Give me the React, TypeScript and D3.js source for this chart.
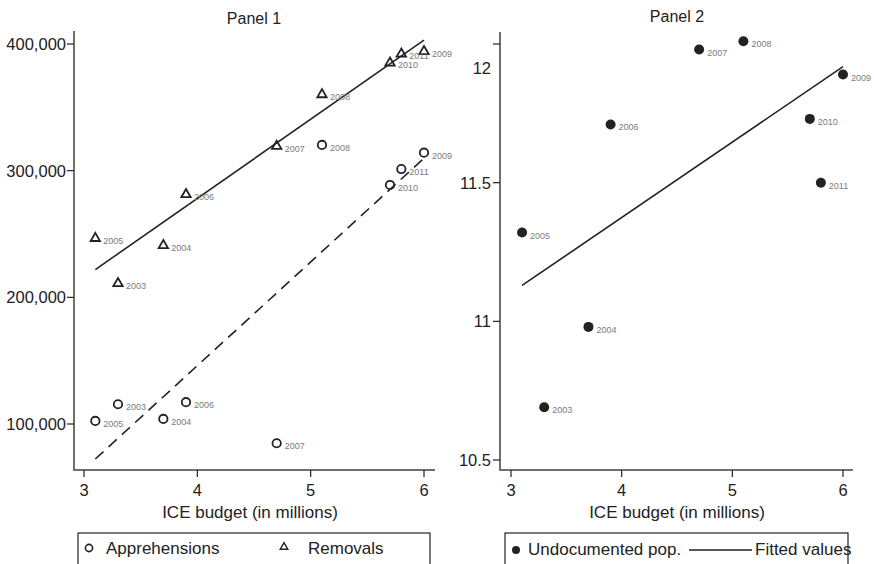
import React from "react";
import * as d3 from "d3";

const years = [2003, 2004, 2005, 2006, 2007, 2008, 2009, 2010, 2011];
const budget = [3.3, 3.7, 3.1, 3.9, 4.7, 5.1, 6.0, 5.7, 5.8];
const removals = [211400, 241400, 247000, 281600, 319700, 360500, 394500, 385500, 392600];
const apprehensions = [115600, 104000, 102400, 117200, 84800, 320300, 314200, 288700, 301300];
const undocumented = [10.69, 10.98, 11.32, 11.71, 11.98, 12.01, 11.89, 11.73, 11.5];

const p1YTicks = [100000, 200000, 300000, 400000];
const p2YTicks = [10.5, 11, 11.5, 12];
const xTicks = [3, 4, 5, 6];

const FONT = "'Liberation Sans', Arial, Helvetica, sans-serif";
const AXIS = "#6f6f6f";
const INK = "#222";
const LABEL = "#7a7a7a";

function fit(xs: number[], ys: number[]) {
  const mx = d3.mean(xs)!;
  const my = d3.mean(ys)!;
  let sxy = 0, sxx = 0;
  xs.forEach((x, i) => {
    sxy += (x - mx) * (ys[i] - my);
    sxx += (x - mx) * (x - mx);
  });
  const b = sxy / sxx;
  const a = my - b * mx;
  return (x: number) => a + b * x;
}

const tri = d3.symbol().type(d3.symbolTriangle).size(38);

export default function App() {
  // Panel 1 scales
  const x1 = d3.scaleLinear().domain([3, 6]).range([84, 424]);
  const y1 = d3.scaleLinear().domain([100000, 400000]).range([424, 44]);
  // Panel 2 scales
  const x2 = d3.scaleLinear().domain([3, 6]).range([511, 843]);
  const y2 = d3.scaleLinear().domain([10.5, 12]).range([460, 44]);

  const xMin = d3.min(budget)!;
  const xMax = d3.max(budget)!;
  const fRem = fit(budget, removals);
  const fApp = fit(budget, apprehensions);
  const fUnd = fit(budget, undocumented);
  const fmt = d3.format(",");

  const yearLabel = (x: number, y: number, yr: number, key: string) => (
    <text key={key} x={x + 8} y={y + 6} fontSize={9} fill={LABEL}>{yr}</text>
  );

  return (
    <svg width={874} height={564} style={{ position: "absolute", left: 0, top: 0, background: "#fff" }} fontFamily={FONT}>
      {/* Panel 1 */}
      <text x={254} y={24} fontSize={16} textAnchor="middle" fill={INK}>Panel 1</text>
      <line x1={74} x2={74} y1={31} y2={471} stroke={AXIS} strokeWidth={2} />
      <line x1={73} x2={435} y1={470} y2={470} stroke={AXIS} strokeWidth={2} />
      {p1YTicks.map((t) => (
        <g key={"p1y" + t}>
          <line x1={67} x2={74} y1={y1(t)} y2={y1(t)} stroke={INK} strokeWidth={1.2} />
          <text x={66} y={y1(t) + 6} fontSize={16.5} textAnchor="end" fill={INK}>{fmt(t)}</text>
        </g>
      ))}
      {xTicks.map((t) => (
        <g key={"p1x" + t}>
          <line x1={x1(t)} x2={x1(t)} y1={470} y2={477} stroke={INK} strokeWidth={1.2} />
          <text x={x1(t)} y={496} fontSize={16.5} textAnchor="middle" fill={INK}>{t}</text>
        </g>
      ))}
      <text x={250} y={518} fontSize={17} textAnchor="middle" fill={INK}>ICE budget (in millions)</text>

      <line x1={x1(xMin)} y1={y1(fRem(xMin))} x2={x1(xMax)} y2={y1(fRem(xMax))} stroke={INK} strokeWidth={1.6} />
      <line x1={x1(xMin)} y1={y1(fApp(xMin))} x2={x1(xMax)} y2={y1(fApp(xMax))} stroke={INK} strokeWidth={1.6} strokeDasharray="11,7" />

      {budget.map((b, i) => (
        <g key={"r" + i}>
          <path d={tri()!} transform={`translate(${x1(b)},${y1(removals[i]) + 0.5})`} fill="none" stroke={INK} strokeWidth={1.8} />
          {yearLabel(x1(b), y1(removals[i]), years[i], "rl" + i)}
        </g>
      ))}
      {budget.map((b, i) => (
        <g key={"a" + i}>
          <circle cx={x1(b)} cy={y1(apprehensions[i])} r={4.2} fill="none" stroke={INK} strokeWidth={1.8} />
          {yearLabel(x1(b), y1(apprehensions[i]), years[i], "al" + i)}
        </g>
      ))}

      {/* Panel 1 legend */}
      <rect x={78} y={533} width={352} height={40} fill="none" stroke={INK} strokeWidth={1.2} />
      <circle cx={89} cy={548} r={3.6} fill="none" stroke={INK} strokeWidth={1.6} />
      <text x={106} y={554} fontSize={17} fill={INK}>Apprehensions</text>
      <path d={tri()!} transform="translate(284,547) scale(0.8)" fill="none" stroke={INK} strokeWidth={1.8} />
      <text x={308} y={554} fontSize={17} fill={INK}>Removals</text>

      {/* Panel 2 */}
      <text x={677} y={22} fontSize={16} textAnchor="middle" fill={INK}>Panel 2</text>
      <line x1={500} x2={500} y1={32} y2={471} stroke={AXIS} strokeWidth={2} />
      <line x1={499} x2={853} y1={470} y2={470} stroke={AXIS} strokeWidth={2} />
      {p2YTicks.map((t) => (
        <g key={"p2y" + t}>
          <line x1={493} x2={500} y1={y2(t)} y2={y2(t)} stroke={INK} strokeWidth={1.2} />
          <text x={491} y={y2(t) + 6 + (t === 12 ? 24 : 0)} fontSize={16.5} textAnchor="end" fill={INK}>{t}</text>
        </g>
      ))}
      {xTicks.map((t) => (
        <g key={"p2x" + t}>
          <line x1={x2(t)} x2={x2(t)} y1={470} y2={477} stroke={INK} strokeWidth={1.2} />
          <text x={x2(t)} y={496} fontSize={16.5} textAnchor="middle" fill={INK}>{t}</text>
        </g>
      ))}
      <text x={677} y={518} fontSize={17} textAnchor="middle" fill={INK}>ICE budget (in millions)</text>

      <line x1={x2(xMin)} y1={y2(fUnd(xMin))} x2={x2(xMax)} y2={y2(fUnd(xMax))} stroke={INK} strokeWidth={1.6} />
      {budget.map((b, i) => (
        <g key={"u" + i}>
          <circle cx={x2(b)} cy={y2(undocumented[i])} r={5} fill={INK} />
          {yearLabel(x2(b), y2(undocumented[i]), years[i], "ul" + i)}
        </g>
      ))}

      {/* Panel 2 legend */}
      <rect x={505} y={533} width={343} height={40} fill="none" stroke={INK} strokeWidth={1.2} />
      <circle cx={516} cy={550} r={4} fill={INK} />
      <text x={528} y={555} fontSize={17} fill={INK}>Undocumented pop.</text>
      <line x1={689} x2={752} y1={550} y2={550} stroke={INK} strokeWidth={1.4} />
      <text x={755} y={555} fontSize={17} fill={INK}>Fitted values</text>
    </svg>
  );
}
